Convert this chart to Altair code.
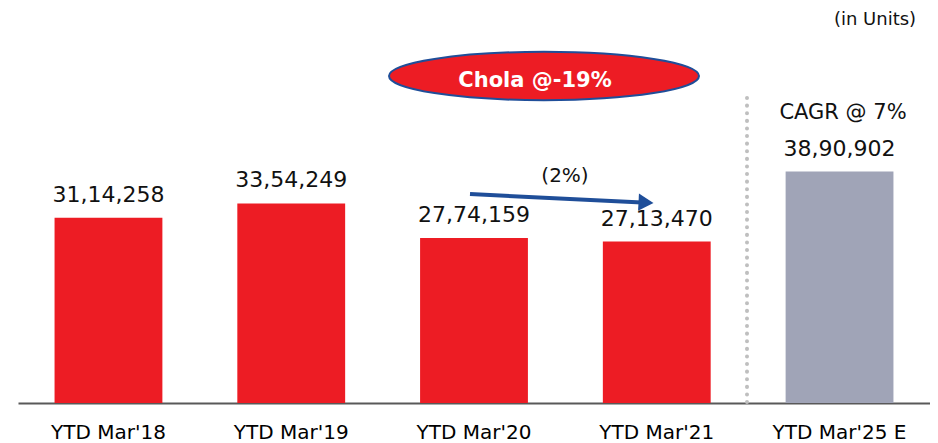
import altair as alt
import pandas as pd

categories = ["YTD Mar'18", "YTD Mar'19", "YTD Mar'20", "YTD Mar'21", "YTD Mar'25 E"]
values = [3114258, 3354249, 2774159, 2713470, 3890902]
bar_colors = ["#ED1C24", "#ED1C24", "#ED1C24", "#ED1C24", "#A0A4B7"]


def indian_format(n):
    s = str(n)
    last3 = s[-3:]
    rest = s[:-3]
    parts = []
    while len(rest) > 2:
        parts.insert(0, rest[-2:])
        rest = rest[:-2]
    if rest:
        parts.insert(0, rest)
    return ",".join(parts + [last3])


labels = [indian_format(v) for v in values]
df = pd.DataFrame({"cat": categories, "value": values, "color": bar_colors, "label": labels})

FONT = "DejaVu Sans"
W, H = 912, 395

x = alt.X("cat:N", sort=categories,
          scale=alt.Scale(paddingInner=0.41, paddingOuter=0.2),
          axis=alt.Axis(title=None, labelAngle=0, ticks=False, labelPadding=19,
                        labelFont=FONT, labelFontSize=20, labelColor="#000000",
                        domainColor="#595959", domainWidth=2, grid=False))
y = alt.Y("value:Q", scale=alt.Scale(domain=[0, 6640000], nice=False), axis=None)

base = alt.Chart(df)
bars = base.mark_bar().encode(x=x, y=y, color=alt.Color("color:N", scale=None))
vals = base.mark_text(font=FONT, fontSize=22, dy=-23, baseline="middle", color="#111111").encode(
    x=x, y=y, text="label:N")

ann = pd.DataFrame({"k": [0]})
a = alt.Chart(ann)

divider = a.mark_rule(color="#BFBFBF", strokeWidth=4, strokeDash=[0.1, 7.5], strokeCap="round").encode(
    x=alt.value(729), y=alt.value(90), y2=alt.value(395))

ellipse_path = "M -1 0 A 1 0.156 0 1 0 1 0 A 1 0.156 0 1 0 -1 0 Z"
ellipse = a.mark_point(shape=ellipse_path, filled=True, fill="#ED1C24", stroke="#1F4E99",
                       strokeWidth=2, opacity=1, size=310 * 310).encode(
    x=alt.value(526), y=alt.value(68))
chola = a.mark_text(text="Chola @-19%", font=FONT, fontWeight="bold", fontSize=21,
                    color="#FFFFFF", baseline="middle").encode(x=alt.value(517), y=alt.value(73))

arrow = a.mark_rule(color="#1F4E99", strokeWidth=4).encode(
    x=alt.value(452), y=alt.value(186), x2=alt.value(624), y2=alt.value(194.5))
head = a.mark_point(shape="triangle-right", filled=True, fill="#1F4E99", opacity=1,
                    size=300, angle=3).encode(x=alt.value(628), y=alt.value(194.6))
pct = a.mark_text(text="(2%)", font=FONT, fontSize=20, color="#111111", baseline="middle").encode(
    x=alt.value(547), y=alt.value(168))
cagr = a.mark_text(text="CAGR @ 7%", font=FONT, fontSize=21, color="#111111", baseline="middle").encode(
    x=alt.value(825), y=alt.value(105))
units = a.mark_text(text="(in Units)", font=FONT, fontSize=18, color="#111111", baseline="middle").encode(
    x=alt.value(857), y=alt.value(12))

chart = alt.layer(bars, vals, divider, ellipse, chola, arrow, head, pct, cagr, units).properties(
    width=W, height=H,
    autosize=alt.AutoSizeParams(type="none"),
    padding={"left": 10, "top": 0, "right": 0, "bottom": 40},
    background="#FFFFFF",
).configure_view(stroke=None)

chart.save("out.html", embed_options={"renderer": "svg", "actions": False})
